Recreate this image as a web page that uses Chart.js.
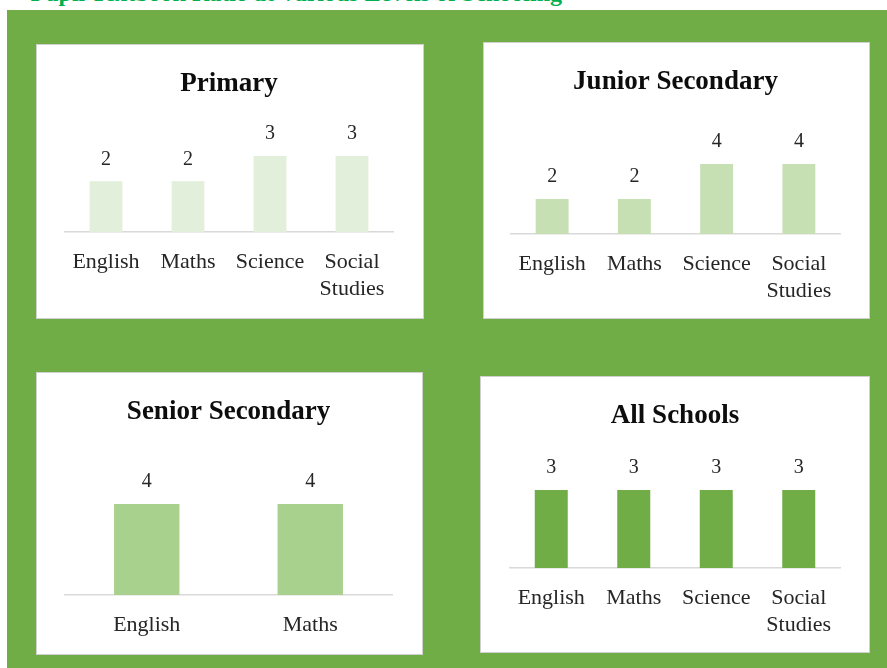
<!DOCTYPE html>
<html>
<head>
<meta charset="utf-8">
<script src="https://cdn.jsdelivr.net/npm/chart.js@4"></script>
<style>
  html, body { margin: 0; padding: 0; background: #ffffff; width: 887px; height: 668px; overflow: hidden; position: relative; }
  #pageTitle { position: absolute; right: 325px; top: -19px; font-family: "Liberation Serif", serif; font-weight: bold; font-size: 24px; line-height: 24px; color: #00b050; white-space: nowrap; }
  #frame { position: absolute; left: 7px; top: 10px; width: 880px; height: 658px; background: #70ad47; }
  .panel { position: absolute; background: #ffffff; border: 1px solid #d0d0d0; box-sizing: content-box; }
  .panel canvas { display: block; }
</style>
</head>
<body>
<div id="pageTitle">Pupil Textbook Ratio at Various Levels of Schooling</div>
<div id="frame"></div>
<div class="panel" style="left:36px;top:44px;width:386px;height:273px;"><canvas id="c1" width="386" height="273"></canvas></div>
<div class="panel" style="left:483px;top:42px;width:385px;height:275px;"><canvas id="c2" width="385" height="275"></canvas></div>
<div class="panel" style="left:36px;top:372px;width:385px;height:281px;"><canvas id="c3" width="385" height="281"></canvas></div>
<div class="panel" style="left:480px;top:376px;width:388px;height:275px;"><canvas id="c4" width="388" height="275"></canvas></div>
<script>
// ---- data ----
const subjects = ["English", "Maths", "Science", "Social Studies"];
const seniorSubjects = ["English", "Maths"];
const primaryValues = [2, 2, 3, 3];
const juniorValues = [2, 2, 4, 4];
const seniorValues = [4, 4];
const allSchoolsValues = [3, 3, 3, 3];
const panelTitles = ["Primary", "Junior Secondary", "Senior Secondary", "All Schools"];

const FONT = "'Liberation Serif', 'Times New Roman', serif";

const valueLabels = {
  id: 'valueLabels',
  afterDatasetsDraw(chart) {
    const ctx = chart.ctx;
    ctx.save();
    ctx.font = '20px ' + FONT;
    ctx.fillStyle = '#262626';
    ctx.textAlign = 'center';
    ctx.textBaseline = 'middle';
    chart.data.datasets.forEach((ds, di) => {
      chart.getDatasetMeta(di).data.forEach((bar, i) => {
        ctx.fillText(String(ds.data[i]), bar.x, bar.y - 22);
      });
    });
    ctx.restore();
  }
};

function makeChart(id, title, labels, values, color, yMax, padL, padR, axisH) {
  return new Chart(document.getElementById(id), {
    type: 'bar',
    data: {
      labels: labels,
      datasets: [{ data: values, backgroundColor: color, borderWidth: 0, barPercentage: 0.4, categoryPercentage: 1.0 }]
    },
    options: {
      responsive: false,
      animation: false,
      layout: { padding: { left: padL, right: padR, top: 0, bottom: 0 } },
      plugins: {
        legend: { display: false },
        tooltip: { enabled: false },
        title: {
          display: true,
          text: title,
          color: '#0d0d0d',
          font: { family: FONT, size: 27, weight: 'bold', lineHeight: 1.2 },
          padding: { top: 23, bottom: 8 }
        }
      },
      scales: {
        x: {
          grid: { display: false, drawTicks: false },
          border: { display: true, color: '#d9d9d9', width: 1.5 },
          ticks: {
            color: '#262626',
            font: { family: FONT, size: 22, lineHeight: 27 / 22 },
            padding: 16.5,
            maxRotation: 0,
            autoSkip: false,
            callback: function (v) {
              const l = this.getLabelForValue(v);
              return l.indexOf(' ') > 0 && l.length > 9 ? l.split(' ') : l;
            }
          },
          afterFit(scale) { scale.height = axisH; }
        },
        y: { display: false, min: 0, max: yMax }
      }
    },
    plugins: [valueLabels]
  });
}

makeChart('c1', panelTitles[0], subjects, primaryValues, '#e2efda', 4.88, 28, 30, 86);
makeChart('c2', panelTitles[1], subjects, juniorValues, '#c6e0b4', 7.29, 27, 29, 84);
makeChart('c3', panelTitles[2], seniorSubjects, seniorValues, '#a9d18e', 6.97, 28, 30, 59);
makeChart('c4', panelTitles[3], subjects, allSchoolsValues, '#70ad47', 4.91, 29, 29, 84);
</script>
</body>
</html>
